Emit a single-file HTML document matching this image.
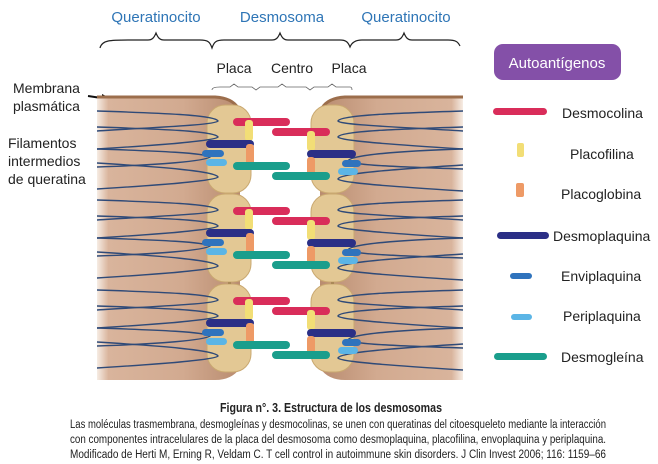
<!DOCTYPE html>
<html><head><meta charset="utf-8"><style>
html,body{margin:0;padding:0;background:#fff;}
svg{display:block;font-family:"Liberation Sans",sans-serif;}
</style></head><body>
<svg width="658" height="464" viewBox="0 0 658 464" xmlns="http://www.w3.org/2000/svg">
<defs>
<linearGradient id="cl" x1="0" y1="0" x2="1" y2="0">
<stop offset="0" stop-color="#f6ece4"/><stop offset="0.08" stop-color="#d9b49c"/><stop offset="0.6" stop-color="#d2aa90"/><stop offset="1" stop-color="#b98c70"/></linearGradient>
<linearGradient id="cr" x1="0" y1="0" x2="1" y2="0">
<stop offset="0" stop-color="#b98c70"/><stop offset="0.4" stop-color="#d2aa90"/><stop offset="0.92" stop-color="#d9b49c"/><stop offset="1" stop-color="#f6ece4"/></linearGradient>
<g id="grp">
<rect x="207" y="0" width="44" height="88" rx="18" fill="#e3c894" stroke="#c9a870" stroke-width="1"/>
<rect x="311" y="0" width="43" height="88" rx="18" fill="#e3c894" stroke="#c9a870" stroke-width="1"/>
<g fill="none" stroke="#2f4a78" stroke-width="1.4">
<path d="M97 6 C160 8 215 10 218 16 C215 20 160 22 97 26"/>
<path d="M97 22 C160 24 215 26 218 32 C215 36 160 40 97 44"/>
<path d="M97 44 C160 46 205 48 210 52 C205 56 160 60 97 62"/>
<path d="M97 58 C160 62 215 66 218 72 C215 76 160 80 97 84"/>
<path d="M463 6 C400 8 340 10 338 16 C340 20 400 22 463 26"/>
<path d="M463 22 C400 24 340 26 338 32 C340 36 400 40 463 44"/>
<path d="M463 44 C400 46 350 50 348 56 C350 60 400 62 463 64"/>
<path d="M463 60 C400 64 340 68 338 74 C340 78 400 82 463 86"/>
</g>
<rect x="233" y="13" width="57" height="8" rx="4" fill="#d92d5a"/>
<rect x="272" y="23" width="58" height="8" rx="4" fill="#d92d5a"/>
<rect x="245" y="15" width="8" height="21" rx="3" fill="#f2de76"/>
<rect x="307" y="26" width="8" height="20" rx="3" fill="#f2de76"/>
<rect x="206" y="35" width="48" height="8" rx="4" fill="#2b2f86"/>
<rect x="307" y="45" width="49" height="8" rx="4" fill="#2b2f86"/>
<rect x="246" y="39" width="8" height="24" rx="3" fill="#ee9a66"/>
<rect x="307" y="52" width="8" height="21" rx="3" fill="#ee9a66"/>
<rect x="202" y="45" width="22" height="7" rx="3.5" fill="#2f73bd"/>
<rect x="206" y="54" width="21" height="7" rx="3.5" fill="#5bb5e6"/>
<rect x="342" y="55" width="19" height="7" rx="3.5" fill="#2f73bd"/>
<rect x="338" y="63" width="20" height="7" rx="3.5" fill="#5bb5e6"/>
<rect x="233" y="57" width="57" height="8" rx="4" fill="#1a9e8c"/>
<rect x="272" y="67" width="58" height="8" rx="4" fill="#1a9e8c"/>
</g>
</defs>
<g fill="#2e75b6" font-size="15" text-anchor="middle">
<text x="156" y="22">Queratinocito</text>
<text x="282" y="22">Desmosoma</text>
<text x="406" y="22">Queratinocito</text>
</g>
<path d="M100 48 C102 40 110 40 130 40 L148 40 C152 40 154 38 156 33 C158 38 160 40 164 40 L200 40 C208 40 210 42 212 48 C214 42 216 40 224 40 L272 40 C276 40 278 38 280 33 C282 38 284 40 288 40 L340 40 C346 40 348 42 350 47 C352 42 356 40 362 40 L396 40 C400 40 402 38 404 33 C406 38 408 40 412 40 L448 40 C456 40 458 42 460 46" fill="none" stroke="#222" stroke-width="1.2"/>
<g fill="#222" font-size="14" text-anchor="middle">
<text x="234" y="73">Placa</text><text x="292" y="73">Centro</text><text x="349" y="73">Placa</text>
</g>
<path d="M212 90 Q212 87 220 87 L230 87 L234 84 L238 87 L252 87 L256 90 L260 87 L278 87 L282 84 L286 87 L306 87 L310 90 L314 87 L328 87 L332 84 L336 87 L350 87 Q352 87 352 90" fill="none" stroke="#666" stroke-width="0.8"/>
<g fill="#222" font-size="14">
<text x="13" y="93">Membrana</text><text x="13" y="111">plasmática</text>
<text x="8" y="148">Filamentos</text><text x="8" y="166">intermedios</text><text x="8" y="184">de queratina</text>
</g>
<path d="M88 96 L108 99" stroke="#111" stroke-width="2"/><path d="M112 99 L102 94 L102 103 Z" fill="#111"/>
<path d="M97 97 L215 97 Q232 98 240 112 L240 368 Q232 380 215 380 L97 380 Z" fill="url(#cl)"/>
<path d="M97 97 L215 97 Q232 98 238 108" fill="none" stroke="#9c6e4c" stroke-width="3"/>
<path d="M463 97 L345 97 Q328 98 320 112 L320 368 Q328 380 345 380 L463 380 Z" fill="url(#cr)"/>
<path d="M463 97 L345 97 Q328 98 322 108" fill="none" stroke="#9c6e4c" stroke-width="3"/>
<rect x="228" y="190" width="3" height="8" fill="#8a6a40"/><rect x="331" y="190" width="3" height="8" fill="#8a6a40"/>
<rect x="228" y="278" width="3" height="8" fill="#8a6a40"/><rect x="331" y="278" width="3" height="8" fill="#8a6a40"/>
<use href="#grp" transform="translate(0,105)"/>
<use href="#grp" transform="translate(0,194)"/>
<use href="#grp" transform="translate(0,284)"/>
<rect x="494" y="44" width="127" height="36" rx="9" fill="#8450a8"/>
<text x="557" y="68" fill="#fff" font-size="15" text-anchor="middle">Autoantígenos</text>
<g font-size="14" fill="#222">
<rect x="493" y="108" width="54" height="7" rx="3.5" fill="#d92d5a"/><text x="562" y="118">Desmocolina</text>
<rect x="517" y="143" width="7" height="14" rx="2" fill="#f2de76"/><text x="570" y="159">Placofilina</text>
<rect x="516" y="183" width="8" height="14" rx="2" fill="#ee9a66"/><text x="561" y="199">Placoglobina</text>
<rect x="497" y="232" width="52" height="7" rx="3.5" fill="#2b2f86"/><text x="553" y="241">Desmoplaquina</text>
<rect x="510" y="273" width="22" height="6" rx="3" fill="#2f73bd"/><text x="561" y="281">Enviplaquina</text>
<rect x="511" y="314" width="21" height="6" rx="3" fill="#5bb5e6"/><text x="563" y="321">Periplaquina</text>
<rect x="494" y="353" width="53" height="7" rx="3.5" fill="#1a9e8c"/><text x="561" y="362">Desmogleína</text>
</g>
<text x="331" y="412" font-size="13" font-weight="bold" text-anchor="middle" textLength="222" lengthAdjust="spacingAndGlyphs" fill="#222">Figura n°. 3. Estructura de los desmosomas</text>
<g font-size="11.5" fill="#222">
<text x="70" y="428" textLength="536" lengthAdjust="spacingAndGlyphs">Las moléculas trasmembrana, desmogleínas y desmocolinas, se unen con queratinas del citoesqueleto mediante la interacción</text>
<text x="70" y="443" textLength="536" lengthAdjust="spacingAndGlyphs">con componentes intracelulares de la placa del desmosoma como desmoplaquina, placofilina, envoplaquina y periplaquina.</text>
<text x="70" y="458" textLength="536" lengthAdjust="spacingAndGlyphs">Modificado de Herti M, Erning R, Veldam C. T cell control in autoimmune skin disorders. J Clin Invest 2006; 116: 1159–66</text>
</g>
</svg>
</body></html>
